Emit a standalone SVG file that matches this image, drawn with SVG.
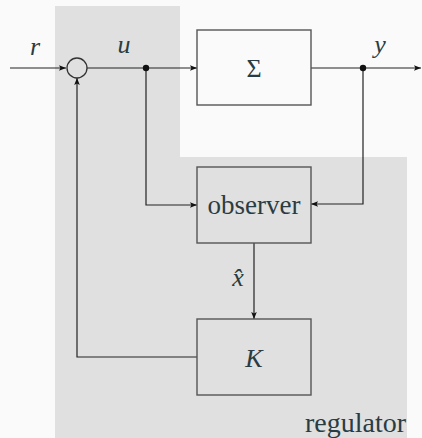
<svg xmlns="http://www.w3.org/2000/svg" width="422" height="438" viewBox="0 0 422 438">
<defs>
<marker id="ah" viewBox="0 0 10 10" refX="10" refY="5" markerWidth="7" markerHeight="7" markerUnits="userSpaceOnUse" orient="auto">
<path d="M0,1 L10,5 L0,9 L2,5 Z" fill="#111"/>
</marker>
</defs>
<rect x="0" y="0" width="422" height="438" fill="#fafafa"/>
<path id="regulator-area" d="M55,6 H180 V157 H407 V438 H55 Z" fill="#e0e0e0"/>
<g id="connectors" fill="none" stroke="#222" stroke-width="1.2">
<line x1="10" y1="68" x2="66" y2="68" marker-end="url(#ah)"/>
<line x1="87" y1="68" x2="197" y2="68" marker-end="url(#ah)"/>
<line x1="311" y1="68" x2="421" y2="68" marker-end="url(#ah)"/>
<polyline points="146,68 146,205 197,205" marker-end="url(#ah)"/>
<polyline points="363,68 363,204 311,204" marker-end="url(#ah)"/>
<line x1="254" y1="243" x2="254" y2="319" marker-end="url(#ah)"/>
<polyline points="197,357 77,357 77,78" marker-end="url(#ah)"/>
<circle cx="146" cy="68" r="3.2" fill="#111" stroke="none"/>
<circle cx="363" cy="68" r="3.2" fill="#111" stroke="none"/>
</g>
<g id="sum"><circle cx="77" cy="68" r="10" fill="none" stroke="#333" stroke-width="1.3"/></g>
<g id="sigma"><rect x="197" y="30" width="114" height="75" fill="none" stroke="#555" stroke-width="1.4"/><text x="254" y="77" text-anchor="middle" font-family="Liberation Serif" font-size="26" fill="#2a3c43">Σ</text></g>
<g id="observer"><rect x="197" y="167" width="114" height="76" fill="none" stroke="#555" stroke-width="1.4"/><text x="254" y="214" text-anchor="middle" font-family="Liberation Serif" font-size="27" fill="#2a3c43">observer</text></g>
<g id="K"><rect x="197" y="319" width="114" height="76" fill="none" stroke="#555" stroke-width="1.4"/><text x="254" y="367" text-anchor="middle" font-style="italic" font-family="Liberation Serif" font-size="26" fill="#2a3c43">K</text></g>
<g id="labels">
<text x="35" y="55" text-anchor="middle" font-style="italic" font-family="Liberation Serif" font-size="26" fill="#2a3c43">r</text>
<text x="124" y="53" text-anchor="middle" font-style="italic" font-family="Liberation Serif" font-size="26" fill="#2a3c43">u</text>
<text x="380" y="53" text-anchor="middle" font-style="italic" font-family="Liberation Serif" font-size="26" fill="#2a3c43">y</text>
<text x="238" y="286" text-anchor="middle" font-style="italic" font-family="Liberation Serif" font-size="26" fill="#2a3c43">x̂</text>
<text x="406" y="432" text-anchor="end" font-family="Liberation Serif" font-size="28" fill="#2a3c43">regulator</text>
</g>
</svg>
